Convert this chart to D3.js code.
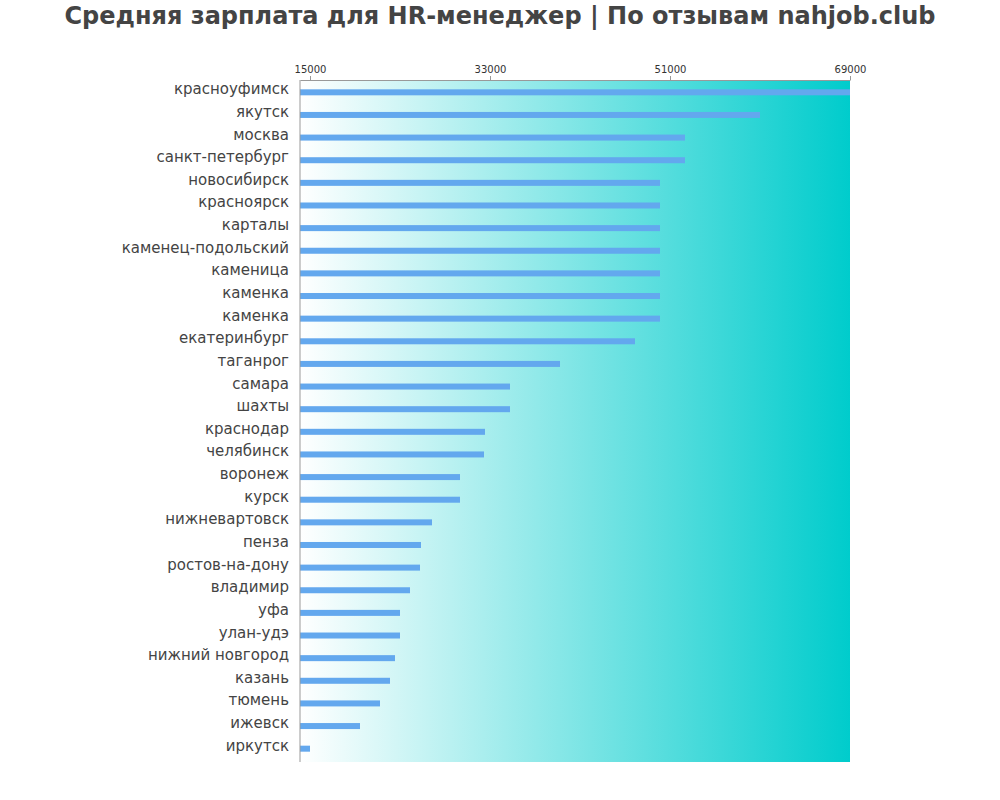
<!DOCTYPE html>
<html><head><meta charset="utf-8">
<script src="https://cdn.jsdelivr.net/npm/d3@7"></script>
<style>body{margin:0;background:#fff}</style></head>
<body><svg id="c" width="1000" height="800"></svg>
<script>
const cities = ["красноуфимск","якутск","москва","санкт-петербург","новосибирск","красноярск","карталы","каменец-подольский","каменица","каменка","каменка","екатеринбург","таганрог","самара","шахты","краснодар","челябинск","воронеж","курск","нижневартовск","пенза","ростов-на-дону","владимир","уфа","улан-удэ","нижний новгород","казань","тюмень","ижевск","иркутск"];
const salaries = [69000,60000,52500,52500,50000,50000,50000,50000,50000,50000,50000,47500,40000,35000,35000,32500,32400,30000,30000,27200,26100,26000,25000,24000,24000,23500,23000,22000,20000,15000];
const tickValues = [15000,33000,51000,69000];
const svg = d3.select("#c");
const L=300,R=850,T=80,B=762;
const x = d3.scaleLinear().domain([14000,69000]).range([L,R]);
const y = d3.scaleBand().domain(d3.range(cities.length)).range([T+1,B-2]);
const defs = svg.append("defs");
const g = defs.append("linearGradient").attr("id","bg");
g.append("stop").attr("offset","0").attr("stop-color","#ffffff");
g.append("stop").attr("offset","1").attr("stop-color","#00cccc");
svg.append("rect").attr("x",L).attr("y",T).attr("width",R-L).attr("height",B-T).attr("fill","url(#bg)");
svg.append("text").attr("x",500).attr("y",24).attr("text-anchor","middle")
 .attr("font-family","DejaVu Sans").attr("font-weight","bold").attr("font-size",24).attr("fill","#444")
 .text("Средняя зарплата для HR-менеджер | По отзывам nahjob.club");
svg.selectAll(".bar").data(salaries).enter().append("rect")
 .attr("x",L).attr("y",(d,i)=>y(i)+y.bandwidth()/2-3).attr("height",6)
 .attr("width",d=>x(d)-L).attr("fill","#63a8ee");
svg.selectAll(".lab").data(cities).enter().append("text")
 .attr("x",289).attr("y",(d,i)=>y(i)+y.bandwidth()/2+2).attr("text-anchor","end")
 .attr("font-family","DejaVu Sans").attr("font-size",15).attr("fill","#444").text(d=>d);
const ax = svg.append("g").attr("transform",`translate(0,${T})`)
 .call(d3.axisTop(x).tickValues(tickValues).tickSize(4).tickSizeOuter(0).tickFormat(d3.format("d")));
ax.select(".domain").attr("stroke","#999");
ax.selectAll(".tick line").attr("stroke","#999");
ax.selectAll("text").attr("font-family","DejaVu Sans").attr("font-size",10).attr("fill","#333");
svg.append("line").attr("x1",L).attr("x2",L).attr("y1",T).attr("y2",B).attr("stroke","#999");
</script></body></html>
